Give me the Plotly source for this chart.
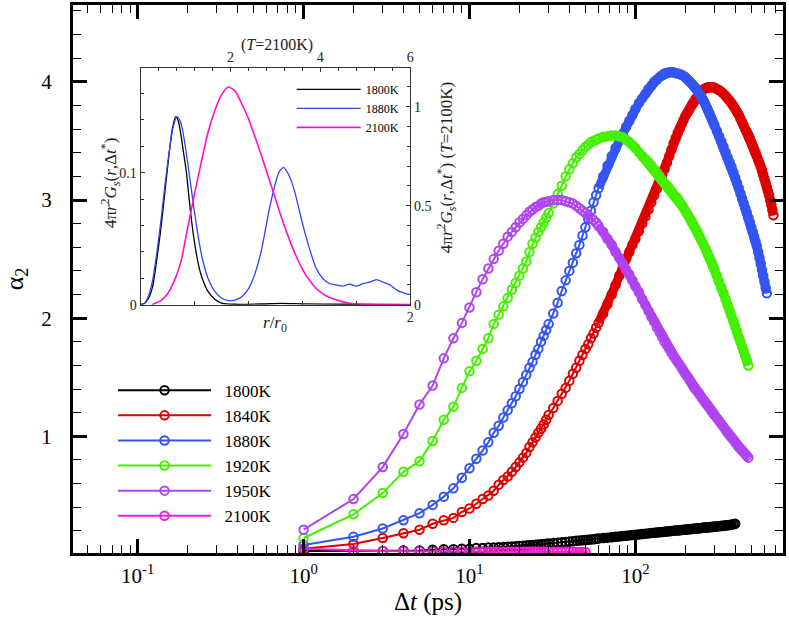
import plotly.graph_objects as go

# ---------------- main panel data (alpha_2 vs Δt in ps) ----------------
DT = [1, 2, 3, 4, 5, 6, 7, 8, 9, 10, 11, 12, 13, 14, 15, 16, 17, 18, 19, 20,
      21, 22, 23, 24, 25, 26, 27, 28, 29, 30,
      32, 34, 36, 38, 40, 42, 44, 46, 48, 50, 52, 54, 56, 58, 60,
      64, 68, 72, 76, 80, 84, 88, 92, 96, 100,
      105, 110, 115, 120, 125, 130, 135, 140, 145, 150, 155, 160, 165, 170, 175, 180, 185, 190, 195, 200,
      205, 210, 215, 220, 225, 230, 235, 240, 245, 250, 255, 260, 265, 270, 275, 280, 285, 290, 295, 300,
      310, 320, 330, 340, 350, 360, 370, 380, 390, 400, 410, 420, 430, 440, 450, 460, 470, 480, 490, 500,
      510, 520, 530, 540, 550, 560, 570, 580, 590, 600, 610, 620, 630, 640, 650, 660, 670, 680]

A2_1800 = [0.03, 0.03, 0.03, 0.035, 0.035, 0.04, 0.045, 0.045, 0.05, 0.05, 0.055, 0.055, 0.06, 0.06, 0.062, 0.064, 0.066, 0.068, 0.07, 0.072,
           0.074, 0.076, 0.078, 0.08, 0.083, 0.085, 0.087, 0.089, 0.091, 0.093,
           0.097, 0.10, 0.104, 0.107, 0.11, 0.113, 0.116, 0.118, 0.121, 0.123, 0.125, 0.128, 0.13, 0.133, 0.135,
           0.139, 0.143, 0.146, 0.15, 0.153, 0.156, 0.159, 0.162, 0.165, 0.167,
           0.17, 0.173, 0.176, 0.179, 0.182, 0.184, 0.187, 0.189, 0.191, 0.193, 0.195, 0.197, 0.199, 0.201, 0.203, 0.204, 0.206, 0.207, 0.209, 0.21,
           0.212, 0.213, 0.215, 0.216, 0.218, 0.219, 0.221, 0.222, 0.223, 0.224, 0.226, 0.227, 0.228, 0.229, 0.23, 0.231, 0.232, 0.233, 0.234, 0.235,
           0.237, 0.239, 0.241, 0.243, 0.246, 0.248, 0.25, 0.253, 0.256, 0.26]

A2_1840 = [0.05, 0.09, 0.14, 0.18, 0.21, 0.26, 0.29, 0.31, 0.36, 0.39, 0.43, 0.47, 0.50, 0.54, 0.59, 0.63, 0.66, 0.70, 0.74, 0.78,
           0.82, 0.86, 0.91, 0.95, 0.99, 1.03, 1.065, 1.10, 1.14, 1.18,
           1.24, 1.30, 1.36, 1.41, 1.47, 1.53, 1.58, 1.64, 1.69, 1.74, 1.78, 1.83, 1.87, 1.92, 1.96,
           2.04, 2.12, 2.20, 2.28, 2.36, 2.43, 2.50, 2.56, 2.62, 2.67,
           2.735, 2.80, 2.86, 2.92, 2.98, 3.04, 3.095, 3.15, 3.205, 3.26, 3.315, 3.37, 3.425, 3.48, 3.525, 3.57, 3.605, 3.64, 3.675, 3.71,
           3.735, 3.76, 3.785, 3.81, 3.83, 3.85, 3.87, 3.89, 3.905, 3.92, 3.93, 3.94, 3.945, 3.95, 3.953, 3.955, 3.955, 3.955, 3.953, 3.95,
           3.94, 3.93, 3.915, 3.90, 3.88, 3.86, 3.84, 3.82, 3.795, 3.77, 3.745, 3.72, 3.69, 3.66, 3.63, 3.60, 3.575, 3.55, 3.52, 3.49,
           3.46, 3.43, 3.40, 3.37, 3.34, 3.31, 3.28, 3.25, 3.215, 3.18, 3.145, 3.11, 3.075, 3.04, 3.00, 2.96, 2.915, 2.87]

A2_1880 = [0.08, 0.15, 0.22, 0.29, 0.35, 0.42, 0.49, 0.56, 0.65, 0.73, 0.81, 0.88, 0.95, 1.03, 1.09, 1.16, 1.22, 1.28, 1.34, 1.40,
           1.46, 1.52, 1.58, 1.63, 1.69, 1.74, 1.80, 1.85, 1.90, 1.95,
           2.04, 2.13, 2.23, 2.32, 2.40, 2.47, 2.55, 2.62, 2.70, 2.77, 2.84, 2.91, 2.98, 3.04, 3.10,
           3.20, 3.29, 3.37, 3.44, 3.50, 3.56, 3.62, 3.67, 3.72, 3.77,
           3.82, 3.86, 3.90, 3.94, 3.97, 4.00, 4.02, 4.04, 4.055, 4.07, 4.075, 4.08, 4.08, 4.08, 4.075, 4.07, 4.065, 4.06, 4.05, 4.04,
           4.025, 4.01, 3.995, 3.98, 3.965, 3.95, 3.93, 3.91, 3.89, 3.87, 3.85, 3.83, 3.805, 3.78, 3.755, 3.73, 3.705, 3.68, 3.655, 3.63,
           3.585, 3.54, 3.495, 3.45, 3.405, 3.36, 3.32, 3.28, 3.235, 3.19, 3.145, 3.10, 3.055, 3.01, 2.97, 2.93, 2.89, 2.85, 2.81, 2.77,
           2.73, 2.69, 2.65, 2.61, 2.56, 2.51, 2.46, 2.41, 2.36, 2.31, 2.26, 2.21]

A2_1920 = [0.14, 0.34, 0.52, 0.70, 0.79, 0.96, 1.14, 1.25, 1.41, 1.55, 1.64, 1.74, 1.83, 1.95, 2.03, 2.10, 2.17, 2.24, 2.30, 2.36,
           2.42, 2.48, 2.56, 2.63, 2.68, 2.73, 2.77, 2.81, 2.85, 2.89,
           2.97, 3.05, 3.12, 3.20, 3.26, 3.31, 3.36, 3.39, 3.42, 3.45, 3.47, 3.49, 3.50, 3.51, 3.52,
           3.535, 3.54, 3.545, 3.545, 3.54, 3.53, 3.51, 3.49, 3.465, 3.44,
           3.405, 3.37, 3.345, 3.32, 3.29, 3.26, 3.23, 3.20, 3.17, 3.14, 3.12, 3.10, 3.075, 3.05, 3.03, 3.01, 2.985, 2.96, 2.935, 2.91,
           2.885, 2.86, 2.835, 2.81, 2.785, 2.76, 2.735, 2.71, 2.685, 2.66, 2.635, 2.61, 2.585, 2.56, 2.535, 2.51, 2.485, 2.46, 2.435, 2.41,
           2.36, 2.31, 2.26, 2.21, 2.16, 2.11, 2.065, 2.02, 1.975, 1.93, 1.885, 1.84, 1.80, 1.76, 1.72, 1.68, 1.64, 1.60]

A2_1950 = [0.21, 0.47, 0.74, 1.02, 1.27, 1.43, 1.66, 1.83, 1.96, 2.09, 2.22, 2.33, 2.42, 2.50, 2.57, 2.63, 2.69, 2.73, 2.77, 2.81,
           2.84, 2.87, 2.90, 2.92, 2.94, 2.95, 2.97, 2.98, 2.985, 2.99,
           3.00, 3.00, 3.00, 2.99, 2.98, 2.97, 2.95, 2.93, 2.91, 2.89, 2.87, 2.85, 2.83, 2.81, 2.78,
           2.73, 2.67, 2.62, 2.56, 2.51, 2.46, 2.41, 2.37, 2.32, 2.27,
           2.22, 2.16, 2.11, 2.06, 2.01, 1.97, 1.92, 1.88, 1.84, 1.80, 1.77, 1.74, 1.71, 1.68, 1.655, 1.63, 1.605, 1.58, 1.555, 1.53,
           1.51, 1.49, 1.465, 1.44, 1.42, 1.40, 1.385, 1.37, 1.35, 1.33, 1.315, 1.30, 1.285, 1.27, 1.255, 1.24, 1.225, 1.21, 1.195, 1.18,
           1.155, 1.13, 1.105, 1.08, 1.055, 1.03, 1.01, 0.99, 0.97, 0.95, 0.93, 0.91, 0.895, 0.88, 0.865, 0.85, 0.835, 0.82]

A2_2100 = [0.05, 0.035, 0.03, 0.028, 0.027, 0.026, 0.026, 0.025, 0.025, 0.025, 0.024, 0.024, 0.024, 0.024, 0.024, 0.024, 0.024, 0.024, 0.024, 0.024,
           0.024, 0.024, 0.023, 0.023, 0.023, 0.023, 0.023, 0.023, 0.023, 0.023,
           0.023, 0.023, 0.023, 0.023, 0.023, 0.023, 0.022, 0.022, 0.022, 0.022]

SERIES_NAMES = ["1800K", "1840K", "1880K", "1920K", "1950K", "2100K"]
SERIES_VALUES = [A2_1800, A2_1840, A2_1880, A2_1920, A2_1950, A2_2100]
SERIES_COLORS = ["#000000", "#dd0000", "#3355f0", "#44f000", "#b044f0", "#f020d0"]

X_TICK_VALS = [0.1, 1, 10, 100]
X_TICK_TEXT = ["10<sup>-1</sup>", "10<sup>0</sup>", "10<sup>1</sup>", "10<sup>2</sup>"]
X_MINOR_VALS = [0.05, 0.06, 0.07, 0.08, 0.09, 0.2, 0.3, 0.4, 0.5, 0.6, 0.7, 0.8, 0.9,
                2, 3, 4, 5, 6, 7, 8, 9, 20, 30, 40, 50, 60, 70, 80, 90,
                200, 300, 400, 500, 600, 700]

# ---------------- inset data ----------------
R_1800 = [0.0, 0.03, 0.06, 0.09, 0.12, 0.15, 0.18, 0.21, 0.235, 0.26, 0.28, 0.30, 0.32, 0.34, 0.36, 0.38, 0.40,
          0.43, 0.46, 0.50, 0.55, 0.60, 0.70, 0.90, 1.05, 1.20, 1.50, 2.0]
G_1800 = [0.0, 0.001, 0.005, 0.014, 0.034, 0.057, 0.085, 0.113, 0.133, 0.1425, 0.139, 0.128, 0.114, 0.10, 0.08, 0.062, 0.047,
          0.030, 0.019, 0.010, 0.004, 0.0012, 0.0003, 0.0005, 0.0009, 0.0006, 0.0003, 0.0]

R_1880 = [0.0, 0.03, 0.06, 0.09, 0.12, 0.15, 0.18, 0.21, 0.24, 0.27, 0.29, 0.31, 0.33, 0.35, 0.37, 0.40, 0.43, 0.46, 0.50,
          0.55, 0.60, 0.65, 0.70, 0.75, 0.80, 0.85, 0.90, 0.95, 1.00, 1.03, 1.06, 1.09, 1.12, 1.15, 1.18, 1.22, 1.26, 1.30,
          1.35, 1.40, 1.45, 1.50, 1.55, 1.60, 1.65, 1.70, 1.75, 1.80, 1.85, 1.90, 1.95, 2.0]
G_1880 = [0.0, 0.001, 0.007, 0.019, 0.039, 0.063, 0.09, 0.114, 0.134, 0.1425, 0.14, 0.133, 0.121, 0.107, 0.092, 0.07, 0.05, 0.034, 0.02,
          0.01, 0.005, 0.003, 0.0035, 0.006, 0.012, 0.024, 0.043, 0.07, 0.092, 0.101, 0.104, 0.10, 0.093, 0.083, 0.07, 0.054, 0.04, 0.028,
          0.02, 0.016, 0.015, 0.014, 0.0155, 0.014, 0.016, 0.017, 0.019, 0.017, 0.015, 0.011, 0.009, 0.0075]

R_2100 = [0.25, 0.45, 0.6, 0.75, 0.9, 1.05, 1.2, 1.35, 1.5, 1.65, 1.8, 1.95, 2.1, 2.25, 2.4, 2.55, 2.7, 2.85, 3.0,
          3.15, 3.3, 3.45, 3.6, 3.75, 3.9, 4.1, 4.3, 4.5, 4.7, 5.0, 5.5, 6.0]
G_2100 = [0.0, 0.02, 0.055, 0.12, 0.22, 0.39, 0.56, 0.72, 0.87, 0.98, 1.06, 1.10, 1.08, 1.015, 0.94, 0.845, 0.745, 0.64, 0.536,
          0.43, 0.335, 0.251, 0.18, 0.125, 0.083, 0.048, 0.028, 0.014, 0.006, 0.002, 0.0, 0.0]

INSET_COLORS = {"1800K": "#000000", "1880K": "#3344ee", "2100K": "#ff10cc"}

FONT = "Liberation Serif"
NB = "\u00a0\u00a0"
DENSE_FROM = 45   # index in DT from which the sampling is so dense that the symbols merge into a band

fig = go.Figure()

for name, vals, color in zip(SERIES_NAMES, SERIES_VALUES, SERIES_COLORS):
    xs = DT[:len(vals)]
    if len(vals) > DENSE_FROM:
        # overlapping symbols of the dense part read as a solid band
        fig.add_trace(go.Scatter(
            x=xs[DENSE_FROM - 1:], y=vals[DENSE_FROM - 1:], mode="lines",
            line=dict(color=color, width=9), showlegend=False, hoverinfo="skip",
        ))
    fig.add_trace(go.Scatter(
        x=xs, y=vals, mode="lines+markers", name=NB + name,
        line=dict(color=color, width=2),
        marker=dict(symbol="circle-open", size=8.5, color=color, line=dict(width=2, color=color)),
        legend="legend",
    ))

fig.add_trace(go.Scatter(x=R_1800, y=G_1800, mode="lines", name="1800K", xaxis="x2", yaxis="y2",
                         line=dict(color=INSET_COLORS["1800K"], width=1.3, shape="spline", smoothing=0.6), legend="legend2"))
fig.add_trace(go.Scatter(x=R_1880, y=G_1880, mode="lines", name="1880K", xaxis="x2", yaxis="y2",
                         line=dict(color=INSET_COLORS["1880K"], width=1.3, shape="spline", smoothing=0.6), legend="legend2"))
fig.add_trace(go.Scatter(x=R_2100, y=G_2100, mode="lines", name="2100K", xaxis="x3", yaxis="y3",
                         line=dict(color=INSET_COLORS["2100K"], width=1.6, shape="spline", smoothing=0.6), legend="legend2"))

main_tick = dict(ticks="inside", tickcolor="black", showgrid=False, zeroline=False,
                 showline=True, linewidth=3, linecolor="black", mirror="allticks")
in_col = "#333333"
inset_ax = dict(ticks="inside", tickcolor=in_col, ticklen=4, tickwidth=1, showgrid=False, zeroline=False,
                showline=True, linewidth=1, linecolor=in_col, tickfont=dict(size=14, family=FONT, color="#222"))


def px_x(px):
    return (px - 72.7) / 714.3


def px_y(py):
    return (553.0 - py) / 551.0


title_font = dict(size=17, family=FONT, color="#222")
annotations = [
    dict(text="4π<i>r</i><sup>2</sup><i>G</i><sub><i>s</i></sub>(<i>r</i>,Δ<i>t</i><sup>*</sup>)",
         x=px_x(110), y=px_y(181), textangle=-90, font=title_font),
    dict(text="4π<i>r</i><sup>2</sup><i>G</i><sub><i>s</i></sub>(<i>r</i>,Δ<i>t</i><sup>*</sup>) (<i>T</i>=2100K)",
         x=px_x(448), y=px_y(166), textangle=-90, font=title_font),
    dict(text="(<i>T</i>=2100K)", x=px_x(278), y=px_y(42), font=dict(size=16, family=FONT, color="#222")),
    dict(text="<i>r</i>/<i>r</i><sub>0</sub>", x=px_x(276), y=px_y(323), font=dict(size=17, family=FONT, color="#222")),
]
for a in annotations:
    a.update(xref="paper", yref="paper", showarrow=False, xanchor="center", yanchor="middle")

fig.update_layout(
    width=789, height=620,
    margin=dict(l=73, r=2, t=2, b=67),
    paper_bgcolor="white", plot_bgcolor="white",
    font=dict(family=FONT, color="black"),
    xaxis=dict(type="log", range=[-1.39, 2.89], ticklen=14, tickwidth=3,
               tickmode="array", tickvals=X_TICK_VALS, ticktext=X_TICK_TEXT,
               tickfont=dict(size=21, family=FONT), ticklabelstandoff=2,
               minor=dict(tickmode="array", tickvals=X_MINOR_VALS, ticks="inside", ticklen=8, tickwidth=1.2, tickcolor="black"),
               title=dict(text="Δ<i>t</i> (ps)", font=dict(size=25, family=FONT), standoff=4),
               **main_tick),
    yaxis=dict(range=[0.013, 4.65], ticklen=14, tickwidth=3, tickmode="linear", tick0=0, dtick=1,
               tickfont=dict(size=21, family=FONT), ticklabelstandoff=14,
               minor=dict(dtick=0.2, tick0=0, ticks="inside", ticklen=8, tickwidth=1.2, tickcolor="black"),
               title=dict(text="α<sub>2</sub>", font=dict(size=26, family=FONT), standoff=14),
               **main_tick),
    xaxis2=dict(domain=[0.0952, 0.475], anchor="y2", range=[0, 2], tickmode="array", tickvals=[2], ticktext=["2"],
                minor=dict(dtick=0.4, tick0=0, ticks="inside", ticklen=4, tickcolor=in_col),
                **inset_ax),
    yaxis2=dict(domain=[0.4532, 0.8844], anchor="x2", range=[0, 0.179], tickmode="array", tickvals=[0, 0.1], ticktext=["0", "0.1"],
                minor=dict(dtick=0.02, tick0=0, ticks="inside", ticklen=3, tickcolor=in_col),
                **inset_ax),
    xaxis3=dict(overlaying="x2", side="top", anchor="y2", range=[0, 6], tickmode="array", tickvals=[2, 4, 6], ticktext=["2", "4", "6"],
                minor=dict(dtick=0.4, tick0=0, ticks="inside", ticklen=3, tickcolor=in_col),
                **inset_ax),
    yaxis3=dict(overlaying="y2", side="right", anchor="x2", range=[0, 1.194], tickmode="array", tickvals=[0, 0.5, 1], ticktext=["0", "0.5", "1"],
                minor=dict(dtick=0.1, tick0=0, ticks="inside", ticklen=3, tickcolor=in_col),
                **inset_ax),
    legend=dict(x=0.0564, y=0.329, xanchor="left", yanchor="top", font=dict(size=17, family=FONT),
                itemwidth=93, bgcolor="rgba(0,0,0,0)", borderwidth=0, tracegroupgap=0),
    legend2=dict(x=0.308, y=0.8725, xanchor="left", yanchor="top", font=dict(size=12, family=FONT),
                 itemwidth=64, bgcolor="rgba(0,0,0,0)", borderwidth=0, tracegroupgap=0),
    annotations=annotations,
    showlegend=True,
)

fig.write_html("out.html", config={"displayModeBar": False},
               post_script="document.body.style.margin='0px';")
